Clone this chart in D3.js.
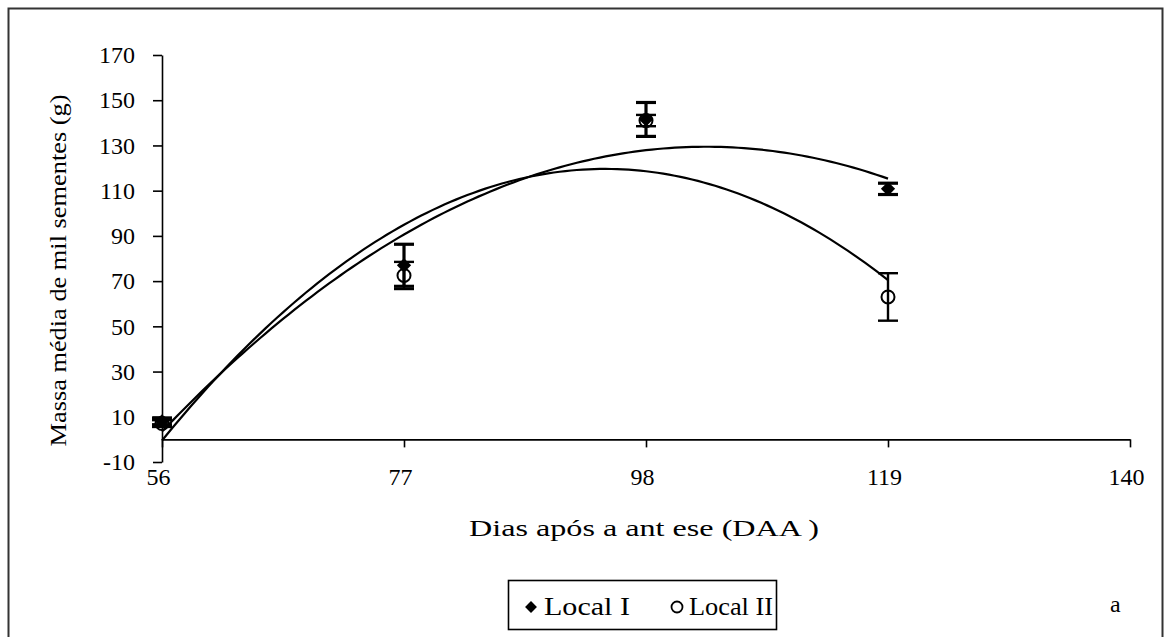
<!DOCTYPE html>
<html>
<head>
<meta charset="utf-8">
<script src="https://cdn.jsdelivr.net/npm/d3@7"></script>
<style>
  body { margin: 0; background: #fff; }
  text { font-family: "Liberation Serif", "Times New Roman", serif; fill: #000; }
</style>
</head>
<body>
<div id="chart"></div>
<script>
// data
const days = [56, 77, 98, 119];
const localI = [8, 77, 141.5, 110.8];
const localIErr = [1.5, 9.3, 7.5, 2.5];
const localII = [7, 72.5, 141, 63];
const localIIErr = [1.5, 6, 2.5, 10.5];
const xTicks = [56, 77, 98, 119, 140];
const yTicks = [-10, 10, 30, 50, 70, 90, 110, 130, 150, 170];

const width = 1164, height = 637;

const svg = d3.select("#chart")
  .append("svg")
  .attr("width", width)
  .attr("height", height);

// outer frame
svg.append("rect")
  .attr("x", 8.5).attr("y", 8.5)
  .attr("width", 1154).attr("height", 640)
  .attr("fill", "none")
  .attr("stroke", "#333")
  .attr("stroke-width", 2);

const x = d3.scaleLinear().domain([56, 140]).range([162, 1130]);
const y = d3.scaleLinear().domain([-10, 170]).range([462, 55]);

//y axis
const yAxis = d3.axisLeft(y).tickValues(yTicks).tickSize(9).tickSizeOuter(0).tickPadding(18)
  .tickFormat((d) => String(d));
svg.append("g")
  .attr("transform", `translate(${x(56)},0)`)
  .call(yAxis)
  .call((g) => g.selectAll("text").style("font-size", "24px").attr("font-family", null))
  .call((g) => g.selectAll("path,line").attr("stroke", "#000").attr("stroke-width", 1.6));

//x axis sits on y = 0
const xAxis = d3.axisBottom(x).tickValues(xTicks).tickSize(8).tickSizeOuter(0).tickPadding(21)
  .tickFormat((d) => String(d));
svg.append("g")
  .attr("transform", `translate(0,${y(0)})`)
  .call(xAxis)
  .call((g) => g.selectAll("text").style("font-size", "24px").attr("font-family", null).attr("dx", "-4"))
  .call((g) => g.selectAll("path,line").attr("stroke", "#000").attr("stroke-width", 1.6));

// quadratic least squares trend line, like the spreadsheet one
function quadFit(xs, ys) {
  let S = [[0, 0, 0], [0, 0, 0], [0, 0, 0]], T = [0, 0, 0];
  xs.forEach((xv, i) => {
    const p = [1, xv, xv * xv];
    for (let r = 0; r < 3; r++) {
      T[r] += p[r] * ys[i];
      for (let c = 0; c < 3; c++) S[r][c] += p[r] * p[c];
    }
  });
  // gaussian elimination
  for (let k = 0; k < 3; k++) {
    for (let r = k + 1; r < 3; r++) {
      const f = S[r][k] / S[k][k];
      for (let c = k; c < 3; c++) S[r][c] -= f * S[k][c];
      T[r] -= f * T[k];
    }
  }
  const b = [0, 0, 0];
  for (let r = 2; r >= 0; r--) {
    let s = T[r];
    for (let c = r + 1; c < 3; c++) s -= S[r][c] * b[c];
    b[r] = s / S[r][r];
  }
  return (xv) => b[0] + b[1] * xv + b[2] * xv * xv;
}

const line = d3.line().x((d) => x(d[0])).y((d) => y(d[1]));

[localI, localII].forEach((series) => {
  const f = quadFit(days, series);
  const pts = d3.range(days[0], days[days.length - 1] + 0.01, 0.5).map((d) => [d, f(d)]);
  svg.append("path")
    .attr("d", line(pts))
    .attr("fill", "none")
    .attr("stroke", "#000")
    .attr("stroke-width", 2.2);
});

// error bars
function errorBars(vals, errs, sw) {
  const g = svg.append("g").attr("stroke", "#000").attr("stroke-width", sw);
  days.forEach((d, i) => {
    const cx = x(d);
    const top = y(vals[i] + errs[i]), bot = y(vals[i] - errs[i]);
    g.append("line").attr("x1", cx).attr("x2", cx).attr("y1", top).attr("y2", bot);
    g.append("line").attr("x1", cx - 10).attr("x2", cx + 10).attr("y1", top).attr("y2", top);
    g.append("line").attr("x1", cx - 10).attr("x2", cx + 10).attr("y1", bot).attr("y2", bot);
  });
}
errorBars(localII, localIIErr, 2.4);
errorBars(localI, localIErr, 3.2);

// markers
svg.selectAll(".m2")
  .data(days)
  .enter()
  .append("circle")
  .attr("class", "m2")
  .attr("cx", (d) => x(d))
  .attr("cy", (d, i) => y(localII[i]))
  .attr("r", 6.5)
  .attr("fill", "none")
  .attr("stroke", "#000")
  .attr("stroke-width", 2);

const diamond = d3.symbol().type(d3.symbolDiamond2).size(130);
svg.selectAll(".m1")
  .data(days)
  .enter()
  .append("path")
  .attr("class", "m1")
  .attr("d", diamond)
  .attr("transform", (d, i) => `translate(${x(d)},${y(localI[i])})`)
  .attr("fill", "#000");

// axis titles
svg.append("text")
  .attr("transform", `translate(66,${(y(170) + y(-10)) / 2 + 12}) rotate(-90)`)
  .attr("text-anchor", "middle")
  .attr("textLength", 352)
  .attr("lengthAdjust", "spacingAndGlyphs")
  .style("font-size", "24px")
  .text("Massa média de mil sementes (g)");

svg.append("text")
  .attr("x", 644)
  .attr("y", 536)
  .attr("text-anchor", "middle")
  .attr("textLength", 350)
  .attr("lengthAdjust", "spacingAndGlyphs")
  .style("font-size", "24px")
  .text("Dias após a ant ese (DAA )");

// legend
const legend = svg.append("g");
legend.append("rect")
  .attr("x", 508.5).attr("y", 580.5)
  .attr("width", 268).attr("height", 49)
  .attr("fill", "none")
  .attr("stroke", "#000")
  .attr("stroke-width", 1.6);
legend.append("path")
  .attr("d", d3.symbol().type(d3.symbolDiamond2).size(90))
  .attr("transform", "translate(531,607)")
  .attr("fill", "#000");
legend.append("text").attr("x", 544).attr("y", 615)
  .attr("textLength", 86).attr("lengthAdjust", "spacingAndGlyphs")
  .style("font-size", "25px").text("Local I");
legend.append("circle")
  .attr("cx", 677).attr("cy", 607).attr("r", 5.5)
  .attr("fill", "none").attr("stroke", "#000").attr("stroke-width", 1.8);
legend.append("text").attr("x", 689).attr("y", 615)
  .attr("textLength", 84).attr("lengthAdjust", "spacingAndGlyphs")
  .style("font-size", "25px").text("Local II");

svg.append("text").attr("x", 1110).attr("y", 612).style("font-size", "24px").text("a");
</script>
</body>
</html>
